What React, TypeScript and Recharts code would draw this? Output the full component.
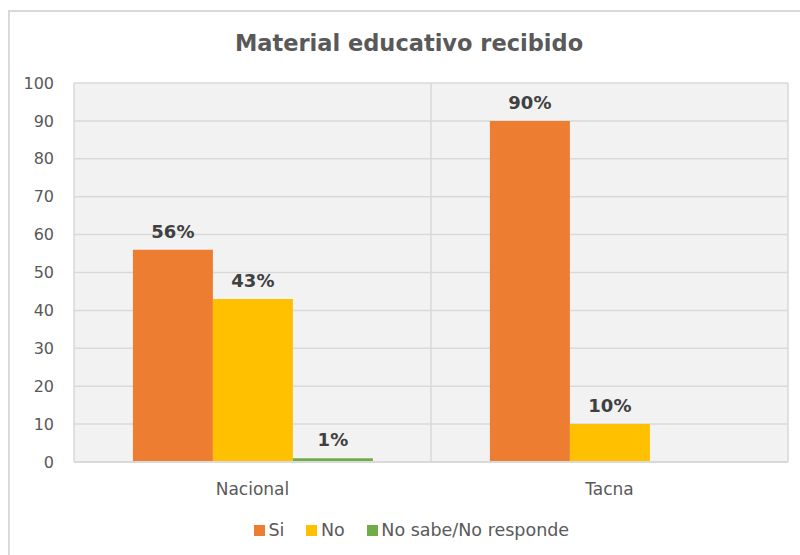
import { Bar, BarChart, CartesianGrid, LabelList, Legend, XAxis, YAxis } from 'recharts';

const categories = ['Nacional', 'Tacna'];
const siValues = [56, 90];
const noValues = [43, 10];
const nsnrValues = [1, 0];
const yTicks = [0, 10, 20, 30, 40, 50, 60, 70, 80, 90, 100];

const SERIES = [
  { key: 'si', name: 'Si', color: '#ED7D31' },
  { key: 'no', name: 'No', color: '#FFC000' },
  { key: 'nsnr', name: 'No sabe/No responde', color: '#70AD47' }
];

const data = categories.map((name, i) => ({
  name,
  si: siValues[i],
  no: noValues[i],
  nsnr: nsnrValues[i]
}));

const FONT = '"DejaVu Sans", Verdana, sans-serif';

const pct = (v: any) => (v ? `${v}%` : '');

const LegendContent = () => (
  <div
    style={{
      display: 'flex',
      paddingLeft: 254,
      fontFamily: FONT,
      fontSize: 17.5,
      color: '#595959'
    }}
  >
    {SERIES.map((s) => (
      <div key={s.key} style={{ display: 'flex', alignItems: 'center', marginRight: 22 }}>
        <span style={{ width: 11, height: 11, background: s.color, marginRight: 3.5, display: 'inline-block' }} />
        <span>{s.name}</span>
      </div>
    ))}
  </div>
);

export default function App() {
  return (
    <div style={{ position: 'absolute', left: 0, top: 0, width: 800, height: 555, overflow: 'hidden', background: '#fff' }}>
      <div
        style={{
          position: 'absolute',
          left: 8,
          top: 10,
          width: 820,
          height: 580,
          border: '2px solid #D9D9D9'
        }}
      />
      <div
        style={{
          position: 'absolute',
          left: 0,
          top: 32,
          width: 818,
          textAlign: 'center',
          fontFamily: FONT,
          fontWeight: 'bold',
          fontSize: 22.5,
          lineHeight: '22px',
          color: '#595959'
        }}
      >
        Material educativo recibido
      </div>
      <div style={{ position: 'absolute', left: 0, top: 0 }}>
        <BarChart
          width={800}
          height={555}
          data={data}
          margin={{ top: 83, right: 12, left: 0, bottom: 53 }}
          barCategoryGap="16.5%"
          barGap={0}
        >
          <CartesianGrid
            fill="#F2F2F2"
            stroke="#D9D9D9"
            strokeWidth={1.5}
            verticalCoordinatesGenerator={({ offset }: any) => [
              offset.left,
              offset.left + offset.width / 2,
              offset.left + offset.width
            ]}
          />
          <XAxis
            dataKey="name"
            height={40}
            axisLine={{ stroke: '#D9D9D9', strokeWidth: 2 }}
            tickLine={false}
            tickSize={0}
            tickMargin={21}
            tick={{ fill: '#595959', fontSize: 17, fontFamily: FONT }}
          />
          <YAxis
            width={74}
            domain={[0, 100]}
            ticks={yTicks}
            axisLine={false}
            tickLine={false}
            tickSize={0}
            tickMargin={20}
            tick={{ fill: '#595959', fontSize: 16, fontFamily: FONT }}
          />
          <Legend
            layout="horizontal"
            verticalAlign="middle"
            wrapperStyle={{ top: 520, left: 0, width: 800 }}
            content={<LegendContent />}
          />
          {SERIES.map((s) => (
            <Bar key={s.key} dataKey={s.key} name={s.name} fill={s.color} isAnimationActive={false}>
              <LabelList
                dataKey={s.key}
                position="top"
                offset={12}
                formatter={pct}
                style={{ fill: '#404040', fontSize: 18, fontWeight: 'bold', fontFamily: FONT }}
              />
            </Bar>
          ))}
        </BarChart>
      </div>
    </div>
  );
}
